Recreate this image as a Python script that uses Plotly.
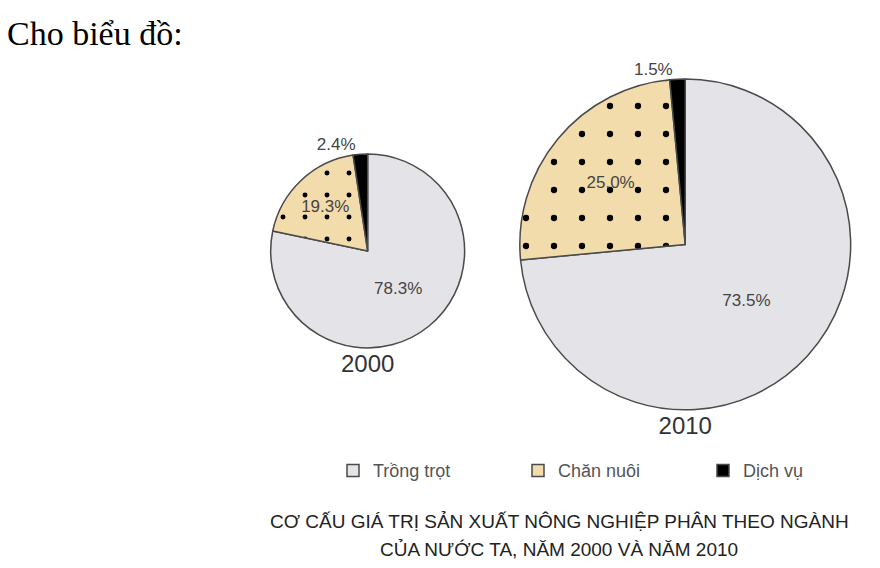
import plotly.graph_objects as go

# du lieu co cau (%)
labels = ["Trồng trọt", "Chăn nuôi", "Dịch vụ"]
years = ["2000", "2010"]
vals_2000 = [78.3, 19.3, 2.4]
vals_2010 = [73.5, 25.0, 1.5]
title_lines = ["CƠ CẤU GIÁ TRỊ SẢN XUẤT NÔNG NGHIỆP PHÂN THEO NGÀNH",
               "CỦA NƯỚC TA, NĂM 2000 VÀ NĂM 2010"]

colors = ["#e4e4e8", "#f3dcab", "#000000"]
line_col = "#4a4a4a"
txt_pos = ["inside", "inside", "outside"]


def make_pie(vals, year, domain, dot_size):
    return go.Pie(
        labels=labels, values=vals, sort=False, direction="clockwise", rotation=0,
        domain=domain,
        marker=dict(
            colors=colors,
            line=dict(color=line_col, width=1.5),
            pattern=dict(shape=["", ".", ""], fgcolor="#000000", fgopacity=1,
                         bgcolor=colors, size=dot_size, solidity=0.04,
                         fillmode="overlay"),
        ),
        texttemplate="%{value:.1f}%", textposition=txt_pos,
        insidetextorientation="horizontal",
        textfont=dict(family="Liberation Sans", size=17, color="#444444"),
        title=dict(text=year, position="bottom center",
                   font=dict(family="Liberation Sans", size=24, color="#333333")),
        hoverinfo="label+percent",
    )


fig = go.Figure()
fig.add_trace(make_pie(vals_2000, years[0], dict(x=[0.2926, 0.5438], y=[0.354, 0.743]), 22))
fig.add_trace(make_pie(vals_2010, years[1], dict(x=[0.584, 0.991], y=[0.245, 0.875]), 28))

fig.update_layout(
    width=880, height=568,
    margin=dict(l=0, r=0, t=0, b=0),
    paper_bgcolor="white", plot_bgcolor="white",
    showlegend=True,
    legend=dict(orientation="h", x=0.378, y=0.218, yanchor="top", xanchor="left",
                entrywidth=140, entrywidthmode="pixels",
                font=dict(family="Liberation Sans", size=18, color="#555555")),
    annotations=[
        dict(text="Cho biểu đồ:", x=0.0, y=0.992, xref="paper", yref="paper",
             xanchor="left", yanchor="top", showarrow=False, xshift=-3,
             font=dict(family="Liberation Serif", size=34, color="#000000")),
        dict(text=title_lines[0], x=0.641, y=1 - 513 / 568, xref="paper", yref="paper",
             xanchor="center", yanchor="middle", showarrow=False,
             font=dict(family="Liberation Sans", size=19, color="#222222")),
        dict(text=title_lines[1], x=0.641, y=1 - 541 / 568, xref="paper", yref="paper",
             xanchor="center", yanchor="middle", showarrow=False,
             font=dict(family="Liberation Sans", size=19, color="#222222")),
    ],
)

fig.write_html("out.html")
